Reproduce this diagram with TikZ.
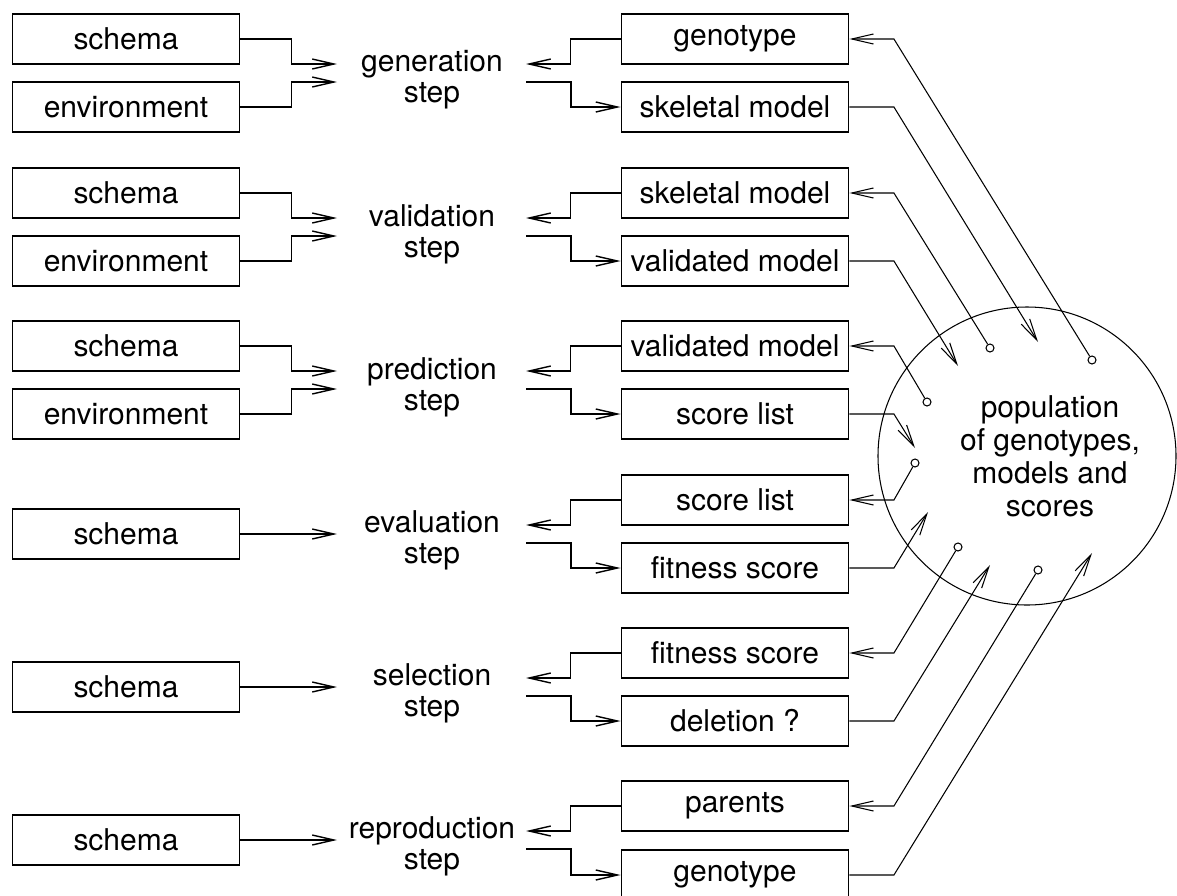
\documentclass[tikz,border=0pt]{standalone}
\usepackage{fontspec}
\setmainfont{TeX Gyre Heros}
\usetikzlibrary{arrows.meta}

\begin{document}
\begin{tikzpicture}
      [x = 0.3mm, y = -0.3mm,
      >={Straight Barb[length=6.5mm, width=3mm]},
      box/.style= {
         draw,
         line width = 1.6pt,
         minimum width = 68.1mm,
         minimum height = 15mm,
         inner sep = 0pt,
         font = \fontsize{25.6pt}{26.5pt}\selectfont
      },
      stage/.style= {
         align = center,
         inner sep = 0pt,
         font = \fontsize{25.6pt}{26.5pt}\selectfont
      },
      link/.style= {line width = 1.2pt},
      feed/.style= {line width = 0.9pt},
      dot/.style= {
         draw,
         circle,
         inner sep = 0pt,
         minimum size = 2.4mm,
         line width = 0.9pt
      }]

      \useasboundingbox (0, 0) rectangle (1177, 896);

      \draw[line width = 0.9pt] (1027, 456) circle [radius = 44.7mm];
      \node[stage, font = \fontsize{25.6pt}{28.2pt}\selectfont] (pop) at (1050, 456)
         {population\\of genotypes,\\models and\\scores};

      \node[box] (sch0) at (126, 39) {schema};
      \node[box] (env0) at (126, 107) {environment};
      \node[stage] (gen) at (432, 80) {generation\\step};
      \node[box] (geno0) at (735, 39) {genotype};
      \node[box] (skel0) at (735, 107) {skeletal model};

      \node[box] (sch1) at (126, 193) {schema};
      \node[box] (env1) at (126, 261) {environment};
      \node[stage] (val) at (432, 234) {validation\\step};
      \node[box] (skel1) at (735, 193) {skeletal model};
      \node[box] (vmod1) at (735, 261) {validated model};

      \node[box] (sch2) at (126, 346) {schema};
      \node[box] (env2) at (126, 414) {environment};
      \node[stage] (pred) at (432, 387) {prediction\\step};
      \node[box] (vmod2) at (735, 346) {validated model};
      \node[box] (list2) at (735, 414) {score list};

      \node[box] (sch3) at (126, 534) {schema};
      \node[stage] (eval) at (432, 540) {evaluation\\step};
      \node[box] (list3) at (735, 500) {score list};
      \node[box] (fit3) at (735, 568) {fitness score};

      \node[box] (sch4) at (126, 687) {schema};
      \node[stage] (sel) at (432, 693) {selection\\step};
      \node[box] (fit4) at (735, 653) {fitness score};
      \node[box] (del4) at (735, 721) {deletion ?};

      \node[box] (sch5) at (126, 840) {schema};
      \node[stage] (repr) at (432, 846) {reproduction\\step};
      \node[box] (par5) at (735, 806) {parents};
      \node[box] (geno5) at (735, 875) {genotype};

      \coordinate (gen-a) at (337, 64);  \coordinate (gen-b) at (337, 82);
      \coordinate (gen-c) at (526, 64);  \coordinate (gen-d) at (526, 82);
      \coordinate (val-a) at (337, 218); \coordinate (val-b) at (337, 236);
      \coordinate (val-c) at (526, 218); \coordinate (val-d) at (526, 236);
      \coordinate (pred-a) at (337, 371); \coordinate (pred-b) at (337, 389);
      \coordinate (pred-c) at (526, 371); \coordinate (pred-d) at (526, 389);
      \coordinate (eval-a) at (337, 534);
      \coordinate (eval-c) at (526, 525); \coordinate (eval-d) at (526, 543);
      \coordinate (sel-a) at (337, 687);
      \coordinate (sel-c) at (526, 678); \coordinate (sel-d) at (526, 696);
      \coordinate (repr-a) at (337, 840);
      \coordinate (repr-c) at (526, 831); \coordinate (repr-d) at (526, 849);

      \draw[link, ->] (sch0.east) -- ++(51, 0) |- (gen-a);
      \draw[link, ->] (env0.east) -- ++(51, 0) |- (gen-b);
      \draw[link, ->] (geno0.west) -- ++(-50, 0) |- (gen-c);
      \draw[link, ->] (gen-d) -- ++(45, 0) |- (skel0.west);

      \draw[link, ->] (sch1.east) -- ++(51, 0) |- (val-a);
      \draw[link, ->] (env1.east) -- ++(51, 0) |- (val-b);
      \draw[link, ->] (skel1.west) -- ++(-50, 0) |- (val-c);
      \draw[link, ->] (val-d) -- ++(45, 0) |- (vmod1.west);

      \draw[link, ->] (sch2.east) -- ++(51, 0) |- (pred-a);
      \draw[link, ->] (env2.east) -- ++(51, 0) |- (pred-b);
      \draw[link, ->] (vmod2.west) -- ++(-50, 0) |- (pred-c);
      \draw[link, ->] (pred-d) -- ++(45, 0) |- (list2.west);

      \draw[link, ->] (sch3.east) -- (eval-a);
      \draw[link, ->] (list3.west) -- ++(-50, 0) |- (eval-c);
      \draw[link, ->] (eval-d) -- ++(45, 0) |- (fit3.west);

      \draw[link, ->] (sch4.east) -- (sel-a);
      \draw[link, ->] (fit4.west) -- ++(-50, 0) |- (sel-c);
      \draw[link, ->] (sel-d) -- ++(45, 0) |- (del4.west);

      \draw[link, ->] (sch5.east) -- (repr-a);
      \draw[link, ->] (par5.west) -- ++(-50, 0) |- (repr-c);
      \draw[link, ->] (repr-d) -- ++(45, 0) |- (geno5.west);

      \node[dot] (d0) at (1092, 360) {};
      \node[dot] (d1) at (990, 348) {};
      \node[dot] (d2) at (927, 402) {};
      \node[dot] (d3) at (915, 463) {};
      \node[dot] (d4) at (958, 547) {};
      \node[dot] (d5) at (1038, 570) {};
      \coordinate (t0) at (1038, 342);
      \coordinate (t1) at (958, 366);
      \coordinate (t2) at (915, 448);
      \coordinate (t3) at (928, 512);
      \coordinate (t4) at (990, 565);
      \coordinate (t5) at (1092, 553);

      \draw[feed, <-] (geno0.east) -- ++(44.5, 0) -- (d0);
      \draw[feed, ->] (skel0.east) -- ++(44.5, 0) -- (t0);
      \draw[feed, <-] (skel1.east) -- ++(44.5, 0) -- (d1);
      \draw[feed, ->] (vmod1.east) -- ++(44.5, 0) -- (t1);
      \draw[feed, <-] (vmod2.east) -- ++(44.5, 0) -- (d2);
      \draw[feed, ->] (list2.east) -- ++(44.5, 0) -- (t2);
      \draw[feed, <-] (list3.east) -- ++(44.5, 0) -- (d3);
      \draw[feed, ->] (fit3.east) -- ++(44.5, 0) -- (t3);
      \draw[feed, <-] (fit4.east) -- ++(44.5, 0) -- (d4);
      \draw[feed, ->] (del4.east) -- ++(44.5, 0) -- (t4);
      \draw[feed, <-] (par5.east) -- ++(44.5, 0) -- (d5);
      \draw[feed, ->] (geno5.east) -- ++(44.5, 0) -- (t5);

   \end{tikzpicture}
\end{document}
